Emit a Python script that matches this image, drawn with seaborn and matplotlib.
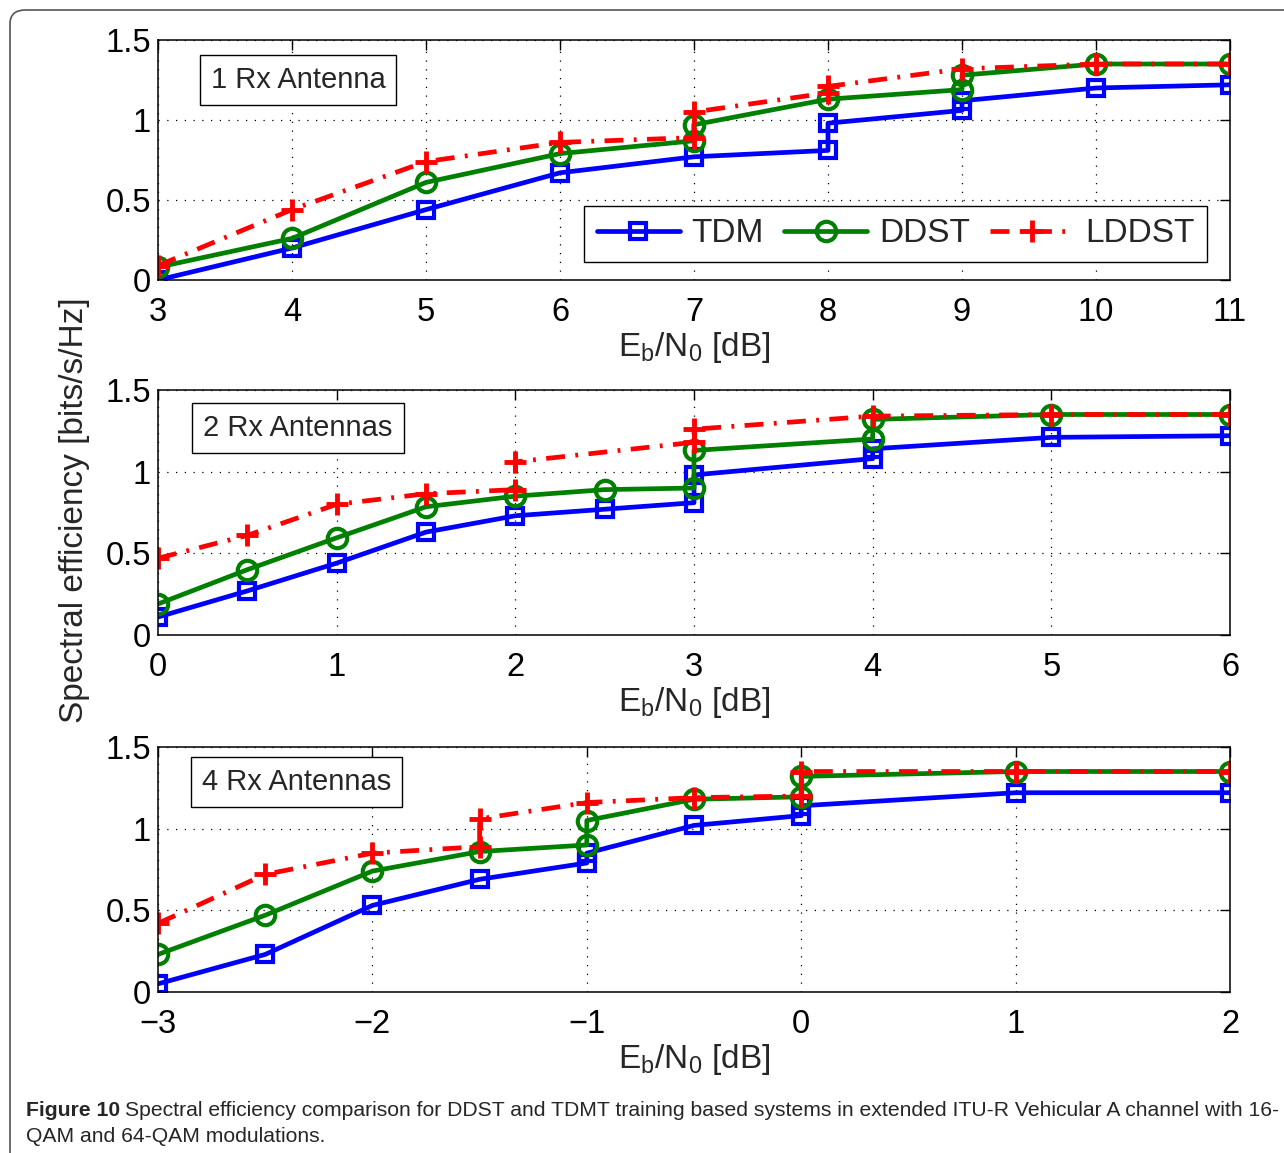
import matplotlib
matplotlib.use("Agg")
import matplotlib.pyplot as plt
import seaborn as sns
import pandas as pd
from matplotlib.patches import FancyBboxPatch

# -------------------------------
# Data
# -------------------------------
# 1 Rx antenna
x1_tdm = [3, 4, 5, 6, 7, 8, 8, 9, 9, 10, 11]
y1_tdm = [0.0, 0.20, 0.44, 0.67, 0.77, 0.81, 0.98, 1.06, 1.12, 1.20, 1.22]
x1_ddst = [3, 4, 5, 6, 7, 7, 8, 9, 9, 10, 11]
y1_ddst = [0.08, 0.26, 0.61, 0.79, 0.87, 0.97, 1.13, 1.19, 1.28, 1.35, 1.35]
x1_lddst = [3, 4, 5, 6, 7, 7, 8, 8, 9, 10, 11]
y1_lddst = [0.09, 0.44, 0.74, 0.86, 0.89, 1.05, 1.17, 1.21, 1.32, 1.35, 1.35]

# 2 Rx antennas
x2_tdm = [0, 0.5, 1, 1.5, 2, 2.5, 3, 3, 4, 4, 5, 6]
y2_tdm = [0.11, 0.27, 0.44, 0.63, 0.73, 0.77, 0.81, 0.98, 1.08, 1.14, 1.21, 1.22]
x2_ddst = [0, 0.5, 1, 1.5, 2, 2.5, 3, 3, 4, 4, 5, 6]
y2_ddst = [0.19, 0.40, 0.595, 0.785, 0.85, 0.89, 0.90, 1.13, 1.20, 1.32, 1.35, 1.35]
x2_lddst = [0, 0.5, 1, 1.5, 2, 2, 3, 3, 4, 5, 6]
y2_lddst = [0.47, 0.61, 0.80, 0.865, 0.89, 1.06, 1.18, 1.26, 1.34, 1.35, 1.35]

# 4 Rx antennas
x3_tdm = [-3, -2.5, -2, -1.5, -1, -1, -0.5, 0, 0, 1, 2]
y3_tdm = [0.05, 0.23, 0.53, 0.69, 0.79, 0.85, 1.02, 1.08, 1.14, 1.22, 1.22]
x3_ddst = [-3, -2.5, -2, -1.5, -1, -1, -0.5, 0, 0, 1, 2]
y3_ddst = [0.23, 0.47, 0.74, 0.86, 0.90, 1.05, 1.18, 1.195, 1.32, 1.35, 1.35]
x3_lddst = [-3, -2.5, -2, -1.5, -1.5, -1, -0.5, 0, 0, 1, 2]
y3_lddst = [0.42, 0.72, 0.85, 0.89, 1.06, 1.16, 1.19, 1.20, 1.35, 1.35, 1.35]

panel_titles = ["1 Rx Antenna", "2 Rx Antennas", "4 Rx Antennas"]
x_limits = [(3, 11), (0, 6), (-3, 2)]
x_ticks = [list(range(3, 12)), list(range(0, 7)), list(range(-3, 3))]
y_ticks = [0, 0.5, 1, 1.5]
y_tick_labels = ["0", "0.5", "1", "1.5"]
series_names = ["TDM", "DDST", "LDDST"]

panels = [
    [(x1_tdm, y1_tdm), (x1_ddst, y1_ddst), (x1_lddst, y1_lddst)],
    [(x2_tdm, y2_tdm), (x2_ddst, y2_ddst), (x2_lddst, y2_lddst)],
    [(x3_tdm, y3_tdm), (x3_ddst, y3_ddst), (x3_lddst, y3_lddst)],
]

sns.set_style("white")
plt.rcParams["font.family"] = ["Liberation Sans", "DejaVu Sans"]
plt.rcParams["mathtext.fontset"] = "custom"
plt.rcParams["mathtext.rm"] = "Liberation Sans"
plt.rcParams["mathtext.it"] = "Liberation Sans"

styles = [
    dict(color="#0000ff", marker="s", linestyle="-", ms=12, mew=3, mfc="none"),
    dict(color="#008000", marker="o", linestyle="-", ms=14, mew=3, mfc="none"),
    dict(color="#ff0000", marker="+", linestyle=(0, (4.0, 2.2, 0.6, 2.2)),
         ms=16, mew=3.5, mfc="none"),
]

fig = plt.figure(figsize=(12.84, 11.53), dpi=100)

W, H = 1284, 1153
ax_px = [(40, 280), (390, 635), (747, 992)]
left, right = 158, 1230
box_pos = [(0.1306, 0.833), (0.1306, 0.845), (0.129, 0.857)]

for i, (top, bottom) in enumerate(ax_px):
    ax = fig.add_axes([left / W, 1 - bottom / H, (right - left) / W, (bottom - top) / H])
    for j, (xs, ys) in enumerate(panels[i]):
        df = pd.DataFrame({"x": xs, "y": ys})
        st = styles[j]
        sns.lineplot(
            data=df, x="x", y="y", ax=ax, sort=False, estimator=None,
            color=st["color"], marker=st["marker"], linestyle=st["linestyle"],
            linewidth=3.4, markersize=st["ms"], markeredgewidth=st["mew"],
            markerfacecolor=st["mfc"], markeredgecolor=st["color"],
            label=series_names[j] if i == 0 else None,
        )
    ax.set_xlim(*x_limits[i])
    ax.set_ylim(0, 1.5)
    ax.set_xticks(x_ticks[i])
    ax.set_yticks(y_ticks)
    ax.set_yticklabels(y_tick_labels)
    ax.tick_params(direction="in", top=True, right=True, length=7, width=1,
                   labelsize=23.5, colors="k")
    ax.tick_params(axis="x", pad=12)
    ax.tick_params(axis="y", pad=5)
    ax.grid(True, color="k", linestyle=(0, (1, 6)), linewidth=0.9)
    for sp in ax.spines.values():
        sp.set_color("k")
        sp.set_linewidth(1.1)
    ax.set_xlabel(r"E$_\mathrm{b}$/N$_\mathrm{0}$ [dB]", fontsize=24, labelpad=2)
    ax.set_ylabel("")
    ax.text(box_pos[i][0], box_pos[i][1], panel_titles[i], transform=ax.transAxes,
            fontsize=21, ha="center", va="center",
            bbox=dict(boxstyle="square,pad=0.38", fc="white", ec="k", lw=1))
    if i == 0:
        ax.legend(loc="lower right", bbox_to_anchor=(0.9785, 0.075), ncol=3,
                  fontsize=24, frameon=True, fancybox=False, edgecolor="k",
                  framealpha=1, handlelength=2.5, handletextpad=0.35,
                  columnspacing=0.6, borderpad=0.38, borderaxespad=0)
        ax.get_legend().get_frame().set_linewidth(1)
    else:
        leg = ax.get_legend()
        if leg is not None:
            leg.remove()

fig.text(75 / W, 1 - 510 / H, "Spectral efficiency [bits/s/Hz]", rotation=90,
         ha="center", va="center", fontsize=24)

# outer rounded border
border = FancyBboxPatch((10 / W, -0.05), 1.05, 1 - 10 / H + 0.05,
                        boxstyle="round,pad=0,rounding_size=0.012",
                        transform=fig.transFigure, fill=False, ec="#555555", lw=1.2)
fig.patches.append(border)

# caption
cap_font = ["Liberation Sans", "DejaVu Sans"]
fig.canvas.draw()
renderer = fig.canvas.get_renderer()
t0 = fig.text(26 / W, 1 - 1110 / H, "Figure 10", fontsize=15.2, fontweight="bold",
              family=cap_font, ha="left", va="center")
bb = t0.get_window_extent(renderer)
fig.text(bb.x1 / W + 5 / W, 1 - 1110 / H,
         "Spectral efficiency comparison for DDST and TDMT training based systems in "
         "extended ITU-R Vehicular A channel with 16-",
         fontsize=15.2, family=cap_font, ha="left", va="center")
fig.text(26 / W, 1 - 1137 / H, "QAM and 64-QAM modulations.", fontsize=15.2,
         family=cap_font, ha="left", va="center")

fig.savefig("out.png", dpi=100)
